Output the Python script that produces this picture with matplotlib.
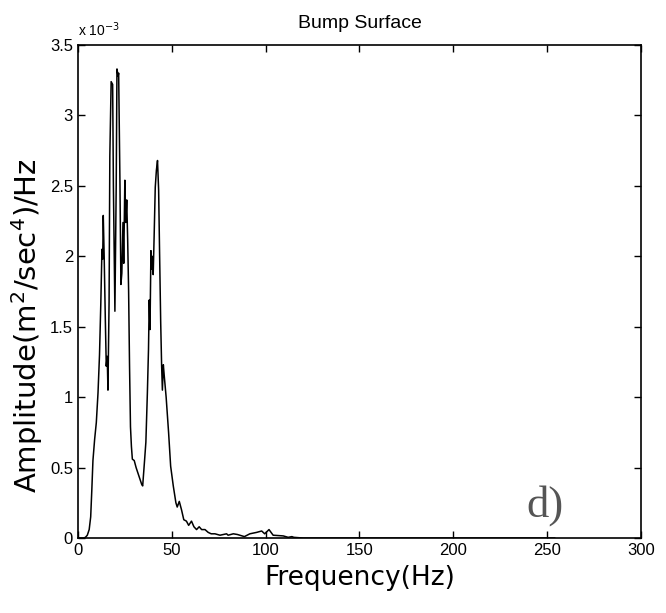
import matplotlib
matplotlib.use('Agg')
import matplotlib.pyplot as plt

# spectrum (amplitude in units of 1e-3)
freq = [0, 1, 2, 3, 4, 5, 6, 6.8, 7.4, 8, 8.9, 9.8, 10.7, 11.5, 12.2, 12.8, 13.2, 13.5,
        14.0, 14.6, 15.1, 15.6, 16.0, 16.6, 17.0, 17.7, 18.5, 18.9, 19.7, 20.4, 20.8,
        21.4, 21.7, 22.4, 22.9, 23.4, 24.0, 24.4, 25.0, 25.5, 26.0, 26.5, 27.0, 27.5,
        28.0, 28.5, 29, 30, 31, 32, 33, 34, 34.5, 35.5, 36.2, 37.0, 37.6, 38.0, 38.4,
        38.9, 39.3, 39.6, 40.1, 40.6, 41.2, 41.8, 42.4, 43.0, 43.5, 44.1, 44.6, 45.0,
        45.5, 46.0, 47, 48.3, 49.4, 50.8, 52.2, 52.9, 54, 55.2, 56.4, 57.8, 59, 60.5,
        61.8, 63.2, 64.6, 65.9, 67.7, 69.4, 71, 73, 75.7, 79.2, 80, 82.8, 85, 88.7,
        91.6, 95.2, 97.9, 99.5, 101.8, 104, 109.4, 112, 114, 115, 120, 150, 200, 254]
amp = [0, 0, 0, 0, 0.005, 0.02, 0.06, 0.15, 0.34, 0.55, 0.70, 0.82, 1.03, 1.30, 1.67,
       2.05, 1.98, 2.29, 1.99, 1.55, 1.22, 1.29, 1.05, 1.68, 2.71, 3.24, 3.22, 2.50,
       1.61, 2.50, 3.33, 3.28, 3.30, 2.51, 1.80, 1.88, 2.24, 1.95, 2.54, 2.24, 2.40,
       2.12, 1.76, 1.22, 0.79, 0.65, 0.56, 0.55, 0.50, 0.46, 0.42, 0.38, 0.37, 0.55,
       0.68, 1.03, 1.34, 1.69, 1.48, 2.04, 1.91, 2.00, 1.87, 2.14, 2.49, 2.61, 2.68,
       2.47, 2.03, 1.53, 1.22, 1.05, 1.23, 1.15, 1.00, 0.75, 0.51, 0.37, 0.25, 0.22,
       0.26, 0.20, 0.13, 0.12, 0.09, 0.12, 0.08, 0.06, 0.08, 0.06, 0.06, 0.04, 0.03,
       0.03, 0.02, 0.03, 0.02, 0.03, 0.025, 0.01, 0.03, 0.04, 0.05, 0.03, 0.06, 0.02,
       0.015, 0.005, 0.01, 0.005, 0.0, 0.0, 0.0, 0.0]

xticks = [0, 50, 100, 150, 200, 250, 300]
yticks = [0, 0.5, 1, 1.5, 2, 2.5, 3, 3.5]

plt.rcParams['font.family'] = ['Liberation Sans', 'DejaVu Sans']

fig = plt.figure(figsize=(6.66, 6.13), dpi=100)
ax = fig.add_axes([0.117, 0.1223, 0.8455, 0.8043])
ax.plot(freq, amp, color='black', linewidth=1.1)

ax.set_xlim(0, 300)
ax.set_ylim(0, 3.5)
ax.set_xticks(xticks)
ax.set_yticks(yticks)
ax.set_yticklabels(['0', '0.5', '1', '1.5', '2', '2.5', '3', '3.5'])
ax.tick_params(direction='in', top=True, right=True, labelsize=12, length=5, width=1)
for s in ax.spines.values():
    s.set_linewidth(1.2)

ax.set_title('Bump Surface', fontsize=14, pad=12)
ax.set_xlabel('Frequency(Hz)', fontsize=19, labelpad=5, family=['DejaVu Sans'])
ax.set_ylabel('Amplitude(m$^2$/sec$^4$)/Hz', fontsize=21, family=['DejaVu Sans'])
ax.yaxis.set_label_coords(-0.058, 0.43)
ax.text(0.0, 1.012, 'x 10$^{-3}$', transform=ax.transAxes, fontsize=10, va='bottom', ha='left')
ax.text(0.83, 0.065, 'd)', transform=ax.transAxes, fontsize=32, color='#555555',
        family=['Liberation Serif', 'DejaVu Serif'], ha='center', va='center')

fig.savefig('out.png', dpi=100)
